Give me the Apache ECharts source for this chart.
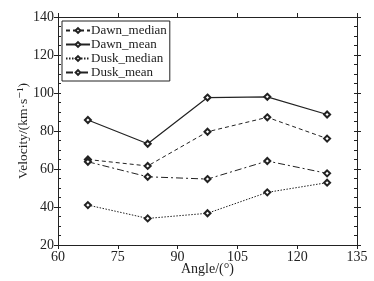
<!DOCTYPE html>
<html>
<head>
<meta charset="utf-8">
<script src="https://cdn.jsdelivr.net/npm/echarts@6/dist/echarts.min.js"></script>
<style>
  html,body{margin:0;padding:0;background:#fff;}
  #chart{width:374px;height:281px;}
</style>
</head>
<body>
<div id="chart"></div>
<script>
// angles at which the velocities were binned
const angles = [67.5, 82.5, 97.5, 112.5, 127.5];
const dawnMedian = [65, 61.6, 79.6, 87.2, 76];
const dawnMean = [85.8, 73.3, 97.6, 98, 88.7];
const duskMedian = [41, 34, 36.7, 47.7, 52.8];
const duskMean = [63.8, 55.9, 54.7, 64.2, 57.7];
const xTicks = [60, 75, 90, 105, 120, 135];
const yTicks = [20, 40, 60, 80, 100, 120, 140];

const ink = '#222';
const font = '"Liberation Serif", "DejaVu Serif", serif';

function line(name, data, type, w){
  return {
    name: name,
    type: 'line',
    data: angles.map((a, i) => [a, data[i]]),
    symbol: 'emptyDiamond',
    symbolSize: 6,
    lineStyle: {color: ink, width: w, type: type},
    itemStyle: {color: ink, borderColor: ink, borderWidth: 1},
    emphasis: {disabled: true}
  };
}

const xBase = {
  type: 'value', min: xTicks[0], max: xTicks[xTicks.length-1], interval: 15,
  axisLine: {show: true, onZero: false, lineStyle: {color: ink, width: 1}},
  axisTick: {show: true, inside: false, length: 4, lineStyle: {color: ink}},
  splitLine: {show: false}
};
const yBase = {
  type: 'value', min: yTicks[0], max: yTicks[yTicks.length-1], interval: 20,
  axisLine: {show: true, onZero: false, lineStyle: {color: ink, width: 1}},
  axisTick: {show: true, inside: false, length: 4, lineStyle: {color: ink}},
  splitLine: {show: false}
};
// small inner ticks every 5 units
const yMinor = {
  type: 'value', min: yTicks[0], max: yTicks[yTicks.length-1], interval: 5,
  axisLine: {show: false},
  axisTick: {show: true, inside: true, length: 3, lineStyle: {color: ink}},
  axisLabel: {show: false},
  splitLine: {show: false}
};

const chart = echarts.init(document.getElementById('chart'), null, {renderer: 'canvas'});
chart.setOption({
  animation: false,
  backgroundColor: '#fff',
  textStyle: {fontFamily: font},
  grid: {left: 58, right: 17, top: 17, bottom: 36, outerBoundsMode: 'none', containLabel: false},
  legend: {
    left: 62, top: 21, orient: 'vertical',
    itemWidth: 24, itemHeight: 6, itemGap: 1,
    padding: [3, 3, 2, 3],
    borderColor: ink, borderWidth: 1,
    backgroundColor: '#fff',
    textStyle: {fontFamily: font, fontSize: 13, color: ink, padding: [0,0,0,-4]},
    data: ['Dawn_median', 'Dawn_mean', 'Dusk_median', 'Dusk_mean']
  },
  xAxis: [
    Object.assign({}, xBase, {
      position: 'bottom',
      name: 'Angle/(°)', nameLocation: 'middle', nameGap: 17, nameMoveOverlap: false,
      nameTextStyle: {fontFamily: font, fontSize: 14, color: ink},
      axisLabel: {color: ink, fontFamily: font, fontSize: 14, margin: 5}
    }),
    Object.assign({}, xBase, {position: 'top', axisLabel: {show: false}})
  ],
  yAxis: [
    Object.assign({}, yBase, {
      position: 'left',
      name: 'Velocity/(km·s⁻¹)', nameLocation: 'middle', nameRotate: 90, nameGap: 28, nameMoveOverlap: false,
      nameTextStyle: {fontFamily: font, fontSize: 13.5, color: ink},
      axisLabel: {color: ink, fontFamily: font, fontSize: 14, margin: 4}
    }),
    Object.assign({}, yBase, {position: 'right', axisLabel: {show: false}}),
    Object.assign({}, yMinor, {position: 'left'}),
    Object.assign({}, yMinor, {position: 'right'})
  ],
  series: [
    line('Dawn_median', dawnMedian, [4, 3], 1),
    line('Dawn_mean', dawnMean, 'solid', 1.2),
    line('Dusk_median', duskMedian, [1.5, 1.5], 1),
    line('Dusk_mean', duskMean, [7, 3, 2, 3], 1)
  ]
});
</script>
</body>
</html>
